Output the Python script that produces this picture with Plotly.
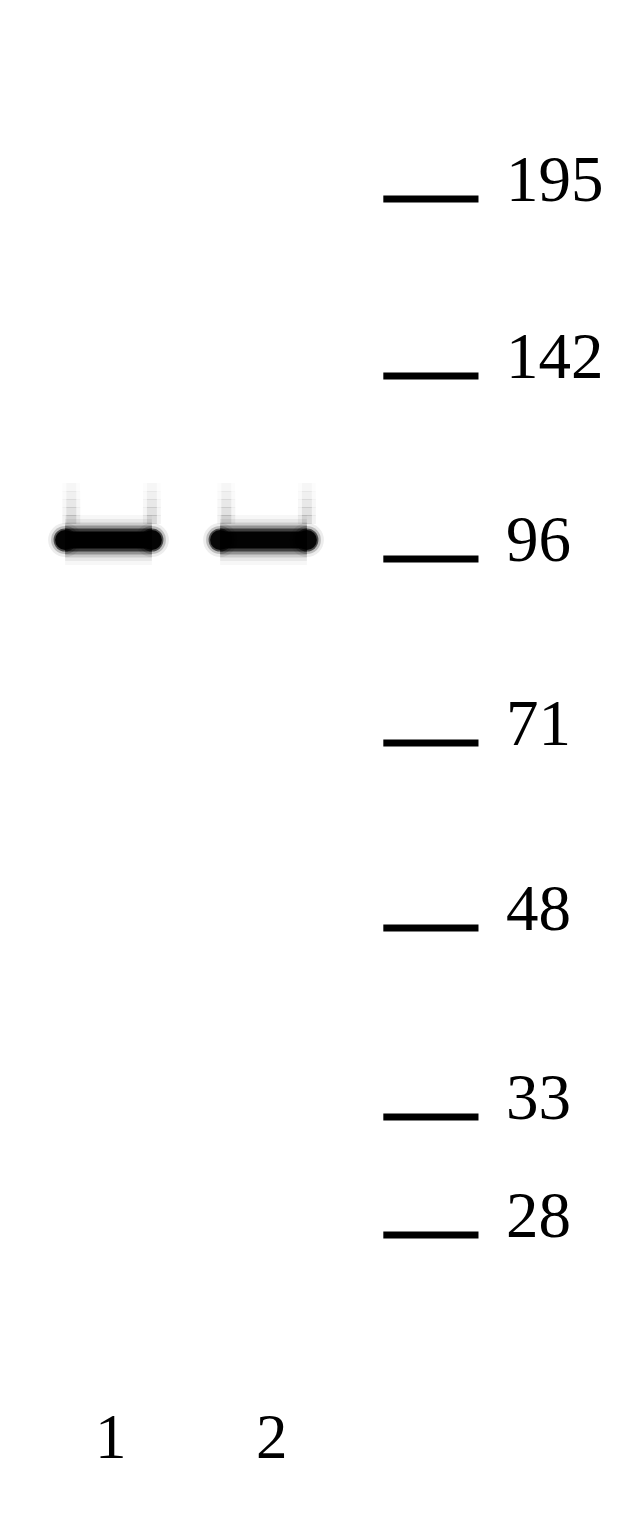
import plotly.graph_objects as go

# ---- data read from the blot ----
lanes = [1, 2]
lane_labels = ["1", "2"]
band_migration = [540, 540]          # band position (px from top of gel)
band_strength = [1.0, 0.95]

marker_kda = ["195", "142", "96", "71", "48", "33", "28"]
marker_migration = [199, 376, 559, 743, 928, 1117, 1235]

LADDER_X = 3.08
HALF_BAND = 0.28
HALF_LADDER = 0.307
FONT = "Liberation Serif, Times New Roman, serif"

fig = go.Figure()

# bands (layered to imitate blur)
for lane, y, s in zip(lanes, band_migration, band_strength):
    xs = [lane - HALF_BAND, lane + HALF_BAND]
    # faint vertical smears above band edges, fading upward
    for ex in (lane - 0.24, lane + 0.28):
        for k, a in enumerate((0.10, 0.08, 0.06, 0.04, 0.025)):
            y0 = y - 16 - 8 * k
            for w, f in ((18, 0.5), (10, 1.0)):
                fig.add_trace(go.Scatter(x=[ex, ex], y=[y0, y0 - 9], mode="lines",
                                         line=dict(color=f"rgba(0,0,0,{a * f:.3f})", width=w),
                                         hoverinfo="skip", showlegend=False))
    for w, a in ((50, 0.03), (42, 0.06), (35, 0.12), (29, 0.28), (23, 0.6 * s), (17, s)):
        fig.add_trace(go.Scatter(x=xs, y=[y, y], mode="lines",
                                 line=dict(color=f"rgba(0,0,0,{a})", width=w),
                                 hoverinfo="skip", showlegend=False))
    for sz, a in ((34, 0.07), (28, 0.2), (23, 0.6), (20, 0.95 * s)):
        fig.add_trace(go.Scatter(x=xs, y=[y, y], mode="markers",
                                 marker=dict(color=f"rgba(0,0,0,{a})", size=sz, line=dict(width=0)),
                                 hoverinfo="skip", showlegend=False))

# ladder marks
for kda, y in zip(marker_kda, marker_migration):
    fig.add_trace(go.Scatter(x=[LADDER_X - HALF_LADDER, LADDER_X + HALF_LADDER], y=[y, y],
                             mode="lines", line=dict(color="black", width=7),
                             hoverinfo="skip", showlegend=False))
    fig.add_annotation(x=LADDER_X + 0.47, y=y, text=kda, showarrow=False,
                       xanchor="left", yanchor="middle", yshift=20,
                       font=dict(family=FONT, size=65, color="black"))

# lane labels
for lane, lab in zip(lanes, lane_labels):
    fig.add_annotation(x=lane, y=1437, text=lab, showarrow=False,
                       xanchor="center", yanchor="middle", xshift=2 + 6 * (lane - 1),
                       font=dict(family=FONT, size=63, color="black"))

fig.update_layout(
    width=628, height=1520, autosize=False,
    margin=dict(l=0, r=0, t=0, b=0),
    paper_bgcolor="white", plot_bgcolor="white",
    xaxis=dict(range=[0.3, 4.3516], visible=False, fixedrange=True),
    yaxis=dict(range=[1520, 0], visible=False, fixedrange=True),
)

fig.write_html("out.html", config={"displayModeBar": False},
               post_script="document.body.style.margin='0';document.body.style.overflow='hidden';")
